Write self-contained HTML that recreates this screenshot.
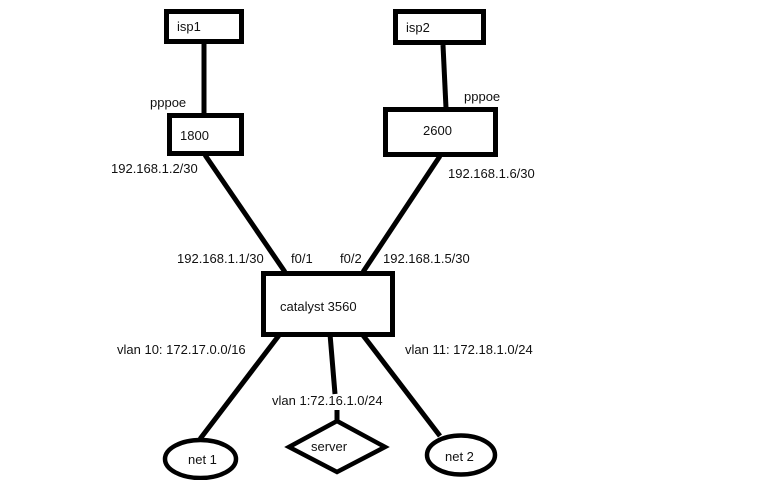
<!DOCTYPE html>
<html>
<head>
<meta charset="utf-8">
<style>
html,body{margin:0;padding:0;background:#fff;}
svg{display:block;}
text{font-family:"Liberation Sans",sans-serif;font-size:13px;fill:#111;}
</style>
</head>
<body>
<svg width="768" height="480" viewBox="0 0 768 480" xmlns="http://www.w3.org/2000/svg">
<rect x="0" y="0" width="768" height="480" fill="#fff"/>
<g stroke="#000" fill="none" stroke-width="5">
  <!-- connectors -->
  <line x1="204" y1="43" x2="204" y2="114"/>
  <line x1="443" y1="45" x2="446" y2="108"/>
  <line x1="205" y1="155" x2="285" y2="272"/>
  <line x1="440" y1="156" x2="363" y2="272"/>
  <line x1="280" y1="334" x2="200" y2="439"/>
  <line x1="330" y1="334" x2="335" y2="394"/>
  <line x1="337" y1="410" x2="337" y2="421"/>
  <line x1="362" y1="334" x2="440" y2="436"/>
  <!-- boxes -->
  <rect x="166.5" y="11.5" width="75" height="30"/>
  <rect x="395.5" y="11.5" width="88" height="31"/>
  <rect x="169.5" y="115.5" width="72" height="38"/>
  <rect x="385.5" y="109.5" width="110" height="45"/>
  <rect x="263.5" y="273.5" width="129" height="61"/>
  <!-- ellipses -->
  <ellipse cx="200.5" cy="459" rx="35.5" ry="19" stroke-width="4.5"/>
  <ellipse cx="461" cy="455" rx="34" ry="19.5" stroke-width="4.5"/>
  <!-- diamond -->
  <polygon points="337,421 385,447 337,472 289,447" stroke-width="4.5" stroke-linejoin="miter"/>
</g>
<g>
  <text x="177" y="31">isp1</text>
  <text x="406" y="32">isp2</text>
  <text x="150" y="107">pppoe</text>
  <text x="464" y="101">pppoe</text>
  <text x="180" y="140">1800</text>
  <text x="423" y="135">2600</text>
  <text x="111" y="173">192.168.1.2/30</text>
  <text x="448" y="178">192.168.1.6/30</text>
  <text x="177" y="263">192.168.1.1/30</text>
  <text x="291" y="263">f0/1</text>
  <text x="340" y="263">f0/2</text>
  <text x="383" y="263">192.168.1.5/30</text>
  <text x="280" y="311">catalyst 3560</text>
  <text x="117" y="354">vlan 10: 172.17.0.0/16</text>
  <text x="405" y="354">vlan 11: 172.18.1.0/24</text>
  <text x="272" y="405">vlan 1:72.16.1.0/24</text>
  <text x="311" y="451">server</text>
  <text x="188" y="464">net 1</text>
  <text x="445" y="461">net 2</text>
</g>
</svg>
</body>
</html>
